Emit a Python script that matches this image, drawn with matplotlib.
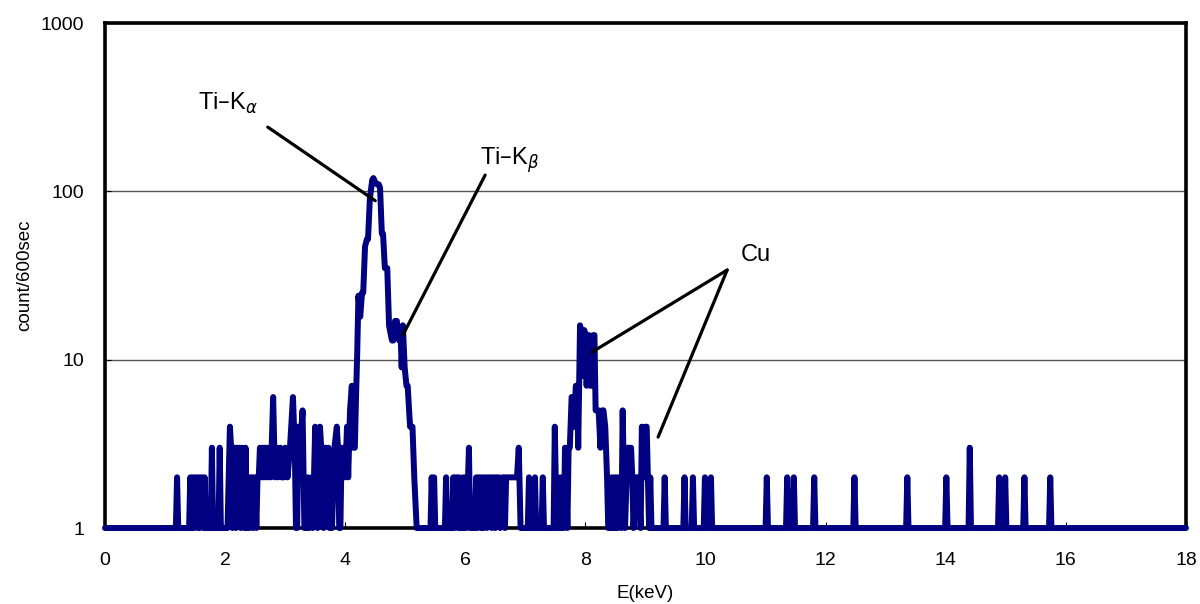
"""EDX spectrum (count/600sec vs E) with Ti and Cu peak annotations."""

import matplotlib
matplotlib.use("Agg")
import matplotlib.pyplot as plt

plt.rcParams.update({
    "font.family": ["Liberation Sans", "DejaVu Sans"],
    "mathtext.fontset": "dejavusans",
    "axes.linewidth": 2.6,
})

C_LINE = "#000080"   # navy spectrum
C_GRID = "#555555"
CH = 0.02            # channel width, keV

# ── Data ─────────────────────────────────────────────────────────────────
# dense low-energy background + Ti K peaks
ti_e = [1.40, 1.42, 1.44, 1.46, 1.48, 1.50, 1.52, 1.54, 1.56, 1.58, 1.60, 1.62,
        1.64, 1.66, 1.68, 1.76, 1.78, 1.80, 1.89, 1.91, 1.93,
        2.04, 2.08, 2.10, 2.12, 2.14, 2.16, 2.18, 2.20, 2.22, 2.24, 2.26, 2.28,
        2.30, 2.32, 2.34, 2.36, 2.38, 2.40, 2.42, 2.44, 2.46, 2.48, 2.50, 2.52,
        2.54, 2.56, 2.58, 2.60, 2.62, 2.64, 2.66, 2.68, 2.70, 2.72, 2.74, 2.76,
        2.80, 2.83, 2.86, 2.88, 2.92, 2.94, 2.98, 3.00, 3.04, 3.08, 3.13, 3.16,
        3.18, 3.20, 3.22, 3.25, 3.29, 3.32, 3.36, 3.38, 3.40, 3.44, 3.46, 3.50,
        3.52, 3.54, 3.56, 3.58, 3.60, 3.62, 3.64, 3.66, 3.68, 3.70, 3.72, 3.74,
        3.78, 3.82, 3.86, 3.88, 3.90, 3.92, 3.94, 3.96, 3.98, 4.00, 4.03, 4.05,
        4.08, 4.11, 4.13, 4.16, 4.18, 4.20, 4.22, 4.25, 4.28, 4.30, 4.33, 4.36,
        4.38, 4.41, 4.45, 4.47, 4.50, 4.53, 4.56, 4.58, 4.61, 4.63, 4.66, 4.70,
        4.73, 4.76, 4.78, 4.80, 4.83, 4.86, 4.88, 4.90, 4.92, 4.94, 4.96, 4.99,
        5.02, 5.04, 5.08, 5.12, 5.15, 5.19]
ti_c = [1, 2, 1, 2, 1, 2, 2, 1, 2, 1, 2, 2,
        1, 2, 1, 1, 3, 1, 1, 3, 1,
        1, 4, 3, 1, 3, 3, 1, 3, 2, 3, 1, 3,
        2, 1, 3, 1, 2, 1, 2, 2, 1, 2, 2, 1,
        2, 2, 3, 2, 3, 2, 3, 2, 3, 2, 3, 2,
        6, 2, 3, 2, 3, 2, 2, 3, 2, 3, 6, 3,
        1, 1, 4, 3, 5, 1, 1, 2, 1, 2, 1, 4,
        2, 1, 3, 4, 3, 2, 1, 3, 3, 2, 3, 1,
        1, 3, 4, 3, 1, 1, 3, 2, 3, 2, 4, 2,
        5, 7, 3, 3, 6, 11, 24, 18, 25, 25, 47, 52,
        52, 90, 117, 120, 113, 110, 110, 105, 56, 56, 35, 35,
        16, 14, 13, 13, 17, 17, 14, 13, 15, 9, 16, 9,
        7, 7, 4, 4, 2, 1]

# sparse region between the Ti and Cu peaks
mid_e = [5.42, 5.44, 5.46, 5.48, 5.50, 5.66, 5.68, 5.70, 5.78, 5.80, 5.82, 5.84,
         5.86, 5.88, 5.90, 5.92, 5.94, 5.96, 5.98, 6.00, 6.02, 6.06, 6.08,
         6.16, 6.18, 6.20, 6.22, 6.24, 6.26, 6.28, 6.30, 6.32, 6.34, 6.36, 6.38,
         6.40, 6.42, 6.44, 6.46, 6.48, 6.50, 6.52, 6.54, 6.56, 6.58, 6.62, 6.64,
         6.66, 6.68, 6.72, 6.76, 6.80, 6.84, 6.86, 6.89, 6.92]
mid_c = [1, 2, 1, 2, 1, 1, 2, 1, 1, 2, 1, 2,
         2, 1, 2, 1, 1, 2, 1, 2, 1, 3, 1,
         1, 2, 1, 2, 2, 1, 2, 1, 2, 2, 1, 2,
         2, 2, 1, 2, 2, 1, 2, 2, 2, 1, 2, 2,
         1, 2, 2, 2, 2, 2, 2, 3, 1]

# Cu K peaks
cu_e = [7.27, 7.29, 7.31, 7.47, 7.49, 7.52, 7.56, 7.58, 7.60, 7.64, 7.66, 7.68,
        7.70, 7.72, 7.74, 7.77, 7.79, 7.81, 7.84, 7.86, 7.88, 7.91, 7.93, 7.95,
        7.98, 8.00, 8.02, 8.04, 8.06, 8.08, 8.10, 8.13, 8.15, 8.17, 8.19, 8.22,
        8.25, 8.28, 8.30, 8.33, 8.36, 8.38, 8.42, 8.44, 8.46, 8.48, 8.50, 8.52,
        8.54, 8.56, 8.58, 8.60, 8.62, 8.64, 8.66, 8.70, 8.72, 8.74, 8.76, 8.78,
        8.80, 8.84, 8.86, 8.88, 8.92, 8.94, 8.96, 8.98, 9.00, 9.02, 9.04, 9.06,
        9.08, 9.10]
cu_c = [1, 2, 1, 1, 4, 1, 1, 2, 1, 1, 3, 2,
        1, 3, 3, 6, 6, 4, 7, 7, 3, 16, 15, 8,
        15, 14, 7, 14, 14, 7, 7, 14, 14, 5, 5, 5,
        3, 5, 5, 4, 2, 1, 1, 2, 1, 2, 1, 2,
        1, 2, 2, 1, 5, 2, 1, 3, 3, 2, 3, 2,
        1, 2, 2, 2, 1, 4, 2, 2, 4, 4, 2, 1,
        2, 1]

# isolated single-channel spikes on the 1-count background
spike_e = [1.20, 7.06, 7.16, 9.32, 9.65, 9.79, 9.99, 10.09, 11.02, 11.36,
           11.47, 11.81, 12.48, 13.36, 14.01, 14.40, 14.89, 14.99, 15.31, 15.74]
spike_c = [2, 2, 2, 2, 2, 2, 2, 2, 2, 2,
           2, 2, 2, 2, 2, 3, 2, 2, 2, 2]

x_ticks = list(range(0, 19, 2))
y_ticks = [1, 10, 100, 1000]

# ── Assemble polyline ────────────────────────────────────────────────────
pts = [(0.0, 1), (18.0, 1)]
pts += list(zip(ti_e, ti_c)) + list(zip(mid_e, mid_c)) + list(zip(cu_e, cu_c))
for e, c in zip(spike_e, spike_c):
    pts += [(e - CH, 1), (e, c), (e + CH, 1)]
pts.sort()
energy = [p[0] for p in pts]
counts = [p[1] for p in pts]

# ── Figure ───────────────────────────────────────────────────────────────
fig = plt.figure(figsize=(12, 6.04), dpi=100)
ax = fig.add_axes([0.0875, 0.1258, 0.9008, 0.836])

ax.set_yscale("log")
ax.set_xlim(0, 18)
ax.set_ylim(1, 1000)
ax.set_xticks(x_ticks)
ax.set_yticks(y_ticks)
ax.set_yticklabels([str(v) for v in y_ticks])
ax.yaxis.set_minor_locator(matplotlib.ticker.NullLocator())
ax.tick_params(direction="in", length=4, width=0.8, labelsize=14)
ax.tick_params(axis="x", pad=17)
ax.tick_params(axis="y", pad=15)

ax.grid(axis="y", which="major", color=C_GRID, lw=1.0, zorder=1)

ax.plot(energy, counts, color=C_LINE, lw=4.3, solid_joinstyle="round",
        solid_capstyle="round", zorder=3, clip_on=False)

ax.set_xlabel("E(keV)", fontsize=13.5, labelpad=12)
ax.set_ylabel("count/600sec", fontsize=13.5, labelpad=5)

# Peak annotations
arrow = dict(arrowstyle="-", color="black", lw=2.3, shrinkA=0, shrinkB=0)
ax.annotate("", xy=(4.50, 88), xytext=(2.71, 241), arrowprops=arrow, zorder=4)
ax.text(1.55, 335, r"Ti–K$_{\alpha}$", fontsize=17, va="center", ha="left")

ax.annotate("", xy=(4.96, 14.0), xytext=(6.33, 125), arrowprops=arrow, zorder=4)
ax.text(6.24, 153, r"Ti–K$_{\beta}$", fontsize=17, va="center", ha="left")

ax.annotate("", xy=(8.11, 11.1), xytext=(10.36, 34.1), arrowprops=arrow, zorder=4)
ax.annotate("", xy=(9.21, 3.47), xytext=(10.36, 34.1), arrowprops=arrow, zorder=4)
ax.text(10.59, 41.9, "Cu", fontsize=17, va="center", ha="left")

fig.savefig("out.png", dpi=100)
